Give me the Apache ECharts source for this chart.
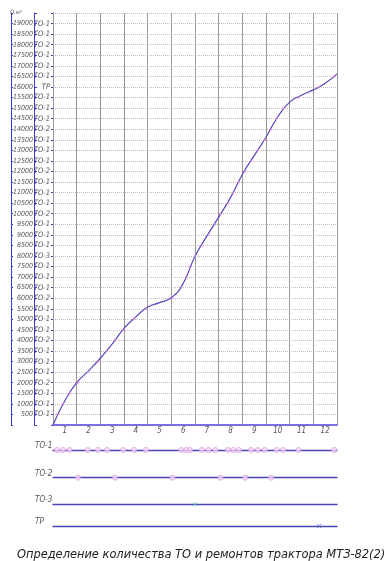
<!DOCTYPE html>
<html><head><meta charset="utf-8">
<script src="https://cdn.jsdelivr.net/npm/echarts@6/dist/echarts.min.js"></script>
<style>html,body{margin:0;padding:0;background:#fff}#c{width:390px;height:561px}</style>
</head><body><div id="c"></div>
<script>
const months = ['1','2','3','4','5','6','7','8','9','10','11','12'];
const curveT = [0,0.5,1,1.5,2,2.5,3,3.5,4,4.5,5,5.5,6,6.5,7,7.5,8,8.5,9,9.5,10,10.5,11,11.5,12];
const curveQ = [0,1150,2000,2560,3160,3830,4570,5120,5580,5790,6020,6700,7990,8940,9840,10760,11860,12750,13620,14590,15280,15610,15860,16170,16620];
const maintLabels = ['ТО-1','ТО-1','ТО-1','ТО-2','ТО-1','ТО-1','ТО-1','ТО-2','ТО-1','ТО-1','ТО-1','ТО-2','ТО-1','ТО-1','ТО-1','ТО-3','ТО-1','ТО-1','ТО-1','ТО-2','ТО-1','ТО-1','ТО-1','ТО-2','ТО-1','ТО-1','ТО-1','ТО-2','ТО-1','ТО-1','ТО-1','ТР','ТО-1','ТО-1','ТО-1','ТО-2','ТО-1','ТО-1'];
const rowNames = ['ТО-1','ТО-2','ТО-3','ТР'];
const to1Times = [0.17,0.42,0.70,1.47,1.9,2.29,2.97,3.42,3.93,5.42,5.63,5.78,6.29,6.57,6.86,7.39,7.61,7.85,8.37,8.65,8.95,9.45,9.73,10.37,11.88];
const to1Levels = [500,1000,1500,2500,3000,3500,4500,5000,5500,6500,7000,7500,8500,9000,9500,10500,11000,11500,12500,13000,13500,14500,15000,15500,16500];
const to2Times = [1.05,2.62,5.05,7.08,8.12,9.21];
const to2Levels = [2000,4000,6000,10000,12000,14000];
const to3Times = [6.0];
const to3Levels = [8000];
const trTimes = [11.25];
const trLevels = [16000];
const titleText = 'Определение количества ТО и ремонтов трактора МТЗ-82(2)';

const FF = '"Liberation Sans Narrow","DejaVu Sans Condensed",sans-serif';
const TXT = '#555';
const BLUE = '#3c3cc8';
const ROW = '#4a44b4';
const pink = {color:'rgba(248,225,248,0.9)', borderColor:'#dc98dc', borderWidth:1};

const rowTops = [446, 473.7, 500.3, 522];
const grids = [{left:53, right:53, top:13, height:412}];
rowTops.forEach(t => grids.push({left:53, right:53, top:t, height:4}));

const xAxes = [
  {gridIndex:0, type:'category', data:months, boundaryGap:true,
   axisLine:{lineStyle:{color:'#7a6ee6', width:2}}, axisTick:{show:false},
   axisLabel:{margin:2, fontSize:8, fontStyle:'italic', fontFamily:FF, color:TXT},
   splitLine:{show:true, lineStyle:{color:'#9a9a9a', width:1}}, z:3},
  {gridIndex:0, type:'value', min:0, max:12, show:false}
];
rowTops.forEach((t,i) => xAxes.push({gridIndex:i+1, type:'value', min:0, max:12,
  axisLine:{show:true, lineStyle:{color:ROW, width:1.3}}, axisTick:{show:false},
  axisLabel:{show:false}, splitLine:{show:false}}));

const yAxes = [
  {gridIndex:0, type:'value', min:0, max:19500, interval:500, position:'left', offset:0,
   axisLine:{show:true, lineStyle:{color:BLUE, width:1}},
   axisTick:{show:true, length:2, lineStyle:{color:BLUE}},
   axisLabel:{margin:3, fontSize:7.5, fontStyle:'italic', fontFamily:FF, color:TXT,
     formatter: v => { const i = v/500 - 1; return (i >= 0 && i < maintLabels.length) ? maintLabels[i] : ''; }},
   splitLine:{show:true, lineStyle:{color:'#bdbdbd', type:[1,1], width:1}}},
  {gridIndex:0, type:'value', min:0, max:19500, interval:500, position:'left', offset:19,
   axisLine:{show:true, lineStyle:{color:BLUE, width:1}},
   axisTick:{show:true, inside:true, length:3, lineStyle:{color:BLUE}},
   axisLabel:{margin:1, fontSize:7, fontStyle:'italic', fontFamily:FF, color:TXT,
     formatter: v => (v > 0 && v < 19500) ? String(v) : ''},
   splitLine:{show:false}},
  {gridIndex:0, type:'value', min:0, max:19500, interval:500, position:'left', offset:42,
   axisLine:{show:true, lineStyle:{color:BLUE, width:1}},
   axisTick:{show:true, inside:true, length:2, lineStyle:{color:BLUE}},
   axisLabel:{show:false}, splitLine:{show:false}}
];
rowNames.forEach((n,i) => yAxes.push({gridIndex:i+1, type:'value', min:0, max:1, interval:1,
  axisLine:{show:false}, axisTick:{show:false}, splitLine:{show:false},
  axisLabel:{margin:18, align:'left', fontSize:8, fontStyle:'italic', fontFamily:FF, color:TXT,
    formatter: v => v === 1 ? n : ''}}));

const series = [
  {type:'line', xAxisIndex:1, yAxisIndex:0, smooth:0.5, showSymbol:false,
   lineStyle:{color:'#5548b8', width:1.2}, data: curveT.map((t,i) => [t, curveQ[i]]), z:5},
  {type:'scatter', xAxisIndex:1, yAxisIndex:0, symbolSize:2.5, itemStyle:{color:'rgba(225,140,225,0.8)'},
   data: to1Times.map((t,i)=>[t,to1Levels[i]]).concat(to2Times.map((t,i)=>[t,to2Levels[i]]),
     to3Times.map((t,i)=>[t,to3Levels[i]]), trTimes.map((t,i)=>[t,trLevels[i]])), z:6},
  {type:'scatter', xAxisIndex:2, yAxisIndex:3, symbolSize:5, itemStyle:pink, data: to1Times.map(t=>[t,0]), z:6},
  {type:'scatter', xAxisIndex:3, yAxisIndex:4, symbolSize:5, itemStyle:pink, data: to2Times.map(t=>[t,0]), z:6},
  {type:'scatter', xAxisIndex:4, yAxisIndex:5, symbol:'path://M0 0L4 4M4 0L0 4', symbolSize:4,
   itemStyle:{color:'none', borderColor:'#5fd0a0', borderWidth:1}, data: to3Times.map(t=>[t,0]), z:6},
  {type:'scatter', xAxisIndex:5, yAxisIndex:6, symbol:'path://M0 0L4 4M4 0L0 4', symbolSize:4,
   itemStyle:{color:'none', borderColor:'#4a6ad0', borderWidth:1}, data: trTimes.map(t=>[t,0]), z:6}
];

const chart = echarts.init(document.getElementById('c'), null, {renderer:'canvas'});
chart.setOption({
  animation:false,
  backgroundColor:'#fff',
  title:[
    {text:titleText, left:12, top:543, textStyle:{fontFamily:FF, fontSize:12.7, fontStyle:'italic', fontWeight:'normal', color:'#222'}},
    {text:'Q,кг', left:5, top:4, textStyle:{fontFamily:FF, fontSize:6, fontStyle:'italic', fontWeight:'normal', color:TXT}}
  ],
  grid:grids, xAxis:xAxes, yAxis:yAxes, series:series
});
</script></body></html>
